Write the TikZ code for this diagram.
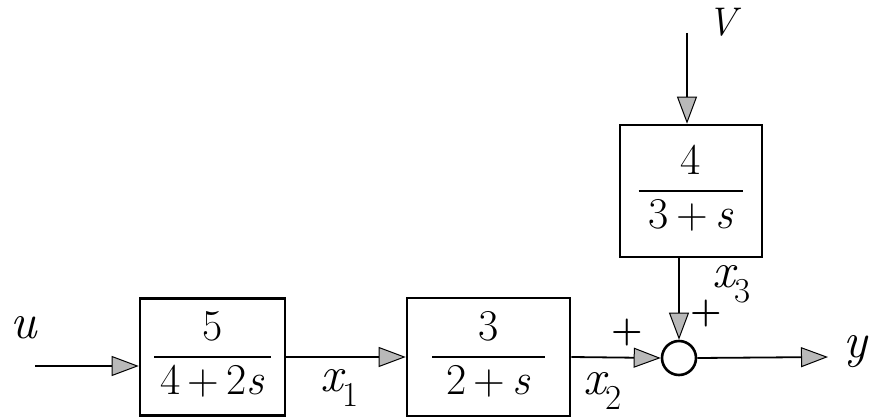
\documentclass[tikz,border=0pt]{standalone}
\usepackage{fontspec}
\usetikzlibrary{arrows.meta}
\newcommand{\blkfrac}[3]{{\setlength\arrayrulewidth{2.8pt}\setlength\tabcolsep{#3}\begin{tabular}{c}#1\\\hline #2\end{tabular}}}
\begin{document}
\begin{tikzpicture}[x=1pt,y=-1pt,
  blk/.style={draw, line width=2.6pt, inner sep=0pt, font=\fontsize{44}{52}\selectfont},
  conn/.style={line width=1.8pt, -{Triangle[length=27pt,width=20pt,fill=gray!55,line width=1pt]}},
  lbl/.style={inner sep=0pt, font=\fontsize{50}{60}\selectfont\itshape},
  sgn/.style={inner sep=0pt, font=\fontsize{36}{42}\selectfont\bfseries}]
\useasboundingbox (0,0) rectangle (870,420);
% blocks
\node[blk, minimum width=145pt, minimum height=117pt] (b1) at (212.5,357) {\blkfrac{5}{4\,+\,2\textit{s}}{6pt}};
\node[blk, minimum width=163pt, minimum height=118pt] (b2) at (488.5,357) {\blkfrac{3}{2\,+\,\textit{s}}{14pt}};
\node[blk, minimum width=142pt, minimum height=132pt] (b3) at (691,191) {\blkfrac{4}{3\,+\,\textit{s}}{10pt}};
\node[circle, draw, line width=2.6pt, minimum size=34pt, inner sep=0pt] (sum) at (679,358) {};
% free ends
\coordinate (uin) at (35,366);
\coordinate (vin) at (687,33);
\coordinate (yout) at (828,357);
% connectors
\draw[conn] (uin) -- (uin -| b1.west);
\draw[conn] (b1.east) -- (b2.west);
\draw[conn] (b2.east) -- (sum.west);
\draw[conn] (vin) -- (vin |- b3.north);
\draw[conn] (b3.south -| sum) -- (sum.north);
\draw[conn] (sum.east) -- (yout);
% labels
\node[lbl] (lu) at (24,328) {u};
\node[lbl] (ly) at (855,352) {y};
\node[lbl, font=\fontsize{40}{48}\selectfont\itshape] (lv) at (722,22) {V};
\node[lbl] (lx1) at (340,388) {x\textsubscript{\upshape 1}};
\node[lbl] (lx2) at (603,391) {x\textsubscript{\upshape 2}};
\node[lbl] (lx3) at (732,284) {x\textsubscript{\upshape 3}};
\node[sgn] (p1) at (627,333) {+};
\node[sgn] (p2) at (706,314) {+};
\end{tikzpicture}
\end{document}
